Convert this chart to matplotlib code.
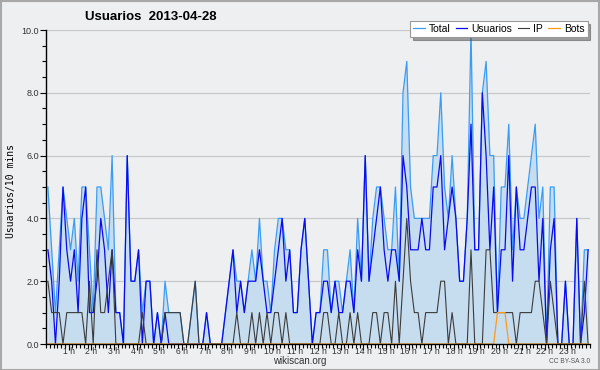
import numpy as np
import matplotlib
matplotlib.use('Agg')
import matplotlib.pyplot as plt
from matplotlib.ticker import MultipleLocator, FixedLocator

plt.rcParams['font.family'] = ['Liberation Sans', 'DejaVu Sans']

# valores por intervalo de 10 minutos (00:00 - 23:50)
total = [5, 3, 1, 3, 5, 4, 3, 4, 2, 5,
         5, 3, 1, 5, 5, 4, 3, 6, 1, 1,
         0, 6, 2, 2, 3, 1, 2, 2, 0, 1,
         0, 2, 1, 1, 1, 1, 0, 0, 1, 2,
         0, 0, 1, 0, 0, 0, 0, 1, 2, 3,
         2, 2, 1, 2, 3, 2, 4, 2, 2, 1,
         3, 4, 4, 3, 3, 1, 1, 3, 4, 2,
         0, 1, 1, 3, 3, 1, 2, 2, 1, 2,
         3, 1, 4, 2, 6, 2, 4, 5, 5, 4,
         3, 3, 5, 2, 8, 9, 5, 4, 4, 4,
         4, 4, 6, 6, 8, 5, 4, 6, 4, 2,
         2, 4, 10, 3, 3, 8, 9, 6, 6, 1,
         5, 5, 7, 3, 5, 4, 4, 5, 6, 7,
         4, 5, 0, 5, 5, 0, 0, 2, 0, 0,
         4, 0, 3, 3]
usuarios = [3, 2, 0, 2, 5, 3, 2, 3, 1, 4,
            5, 1, 1, 2, 4, 3, 1, 3, 1, 1,
            0, 6, 2, 2, 3, 0, 2, 2, 0, 1,
            0, 1, 0, 0, 0, 0, 0, 0, 0, 0,
            0, 0, 1, 0, 0, 0, 0, 1, 2, 3,
            1, 2, 1, 2, 2, 2, 3, 2, 1, 1,
            2, 3, 4, 2, 3, 1, 1, 3, 4, 2,
            0, 1, 1, 2, 2, 1, 2, 1, 1, 2,
            2, 1, 3, 2, 6, 2, 3, 4, 5, 3,
            2, 3, 3, 2, 6, 5, 3, 3, 3, 4,
            3, 3, 5, 5, 6, 3, 4, 5, 4, 2,
            2, 4, 7, 3, 3, 8, 6, 3, 5, 1,
            3, 3, 6, 2, 5, 3, 3, 4, 5, 5,
            2, 4, 0, 3, 4, 0, 0, 2, 0, 0,
            4, 0, 1, 3]
ip = [2, 1, 1, 1, 0, 1, 1, 1, 1, 1,
      0, 2, 0, 3, 1, 1, 2, 3, 0, 0,
      0, 0, 0, 0, 0, 1, 0, 0, 0, 0,
      0, 1, 1, 1, 1, 1, 0, 0, 1, 2,
      0, 0, 0, 0, 0, 0, 0, 0, 0, 0,
      1, 0, 0, 0, 1, 0, 1, 0, 1, 0,
      1, 1, 0, 1, 0, 0, 0, 0, 0, 0,
      0, 0, 0, 1, 1, 0, 0, 1, 0, 0,
      1, 0, 1, 0, 0, 0, 1, 1, 0, 1,
      1, 0, 2, 0, 2, 4, 2, 1, 1, 0,
      1, 1, 1, 1, 2, 2, 0, 1, 0, 0,
      0, 0, 3, 0, 0, 0, 3, 3, 1, 1,
      1, 1, 1, 1, 0, 1, 1, 1, 1, 2,
      2, 1, 0, 2, 1, 0, 0, 0, 0, 0,
      0, 0, 2, 0]
bots = [0] * 119 + [1, 1, 1] + [0] * 22

hour_labels = ['%d h' % h for h in range(1, 24)]
title = 'Usuarios  2013-04-28'

# eje de tiempo en horas (centro de cada intervalo)
t = (np.arange(len(total)) + 0.5) / 6.0

bg = '#eeeff1'
fig = plt.figure(figsize=(6, 3.7), dpi=100, facecolor=bg)
fig.patches.append(plt.Rectangle((0.001, 0.001), 0.997, 0.997, transform=fig.transFigure,
                                 fill=False, edgecolor='#a8a8a8', linewidth=1.5))
ax = fig.add_axes([46 / 600, 1 - 344 / 370, 544 / 600, 314 / 370])
ax.set_facecolor(bg)

ax.fill_between(t, total, 0, color='#c6dcef', linewidth=0, zorder=1)
l1, = ax.plot(t, total, color='#3a9cf5', lw=0.9, zorder=2)
l2, = ax.plot(t, usuarios, color='#0a0af0', lw=0.9, zorder=2.1)
l3, = ax.plot(t, ip, color='#3c3c3c', lw=0.8, zorder=2.2)
l4, = ax.plot(t, bots, color='#ff9a1a', lw=0.9, zorder=2.3)

ax.set_xlim(0, 24)
ax.set_ylim(0, 10)
ax.yaxis.set_major_locator(MultipleLocator(2))
ax.yaxis.set_minor_locator(MultipleLocator(0.5))
ax.yaxis.set_major_formatter(matplotlib.ticker.FormatStrFormatter('%.1f'))
ax.xaxis.set_major_locator(FixedLocator(range(1, 24)))
ax.set_xticklabels(hour_labels)
ax.xaxis.set_minor_locator(MultipleLocator(1 / 6))
ax.tick_params(axis='both', which='both', direction='out', color='black', width=0.8)
ax.tick_params(axis='both', which='major', length=4, labelcolor='#333333')
ax.tick_params(axis='both', which='minor', length=3)
ax.tick_params(axis='y', labelsize=6.5, pad=1)
ax.tick_params(axis='x', labelsize=6.2, pad=-1.5)
ax.grid(axis='y', color='#c8c8c8', linewidth=0.9)
ax.set_axisbelow(True)
for s in ['top', 'right']:
    ax.spines[s].set_visible(False)
for s in ['left', 'bottom']:
    ax.spines[s].set_linewidth(1.0)
    ax.spines[s].set_zorder(5)

fig.text(0.018, 0.485, 'Usuarios/10 mins', family='DejaVu Sans Mono', fontsize=7,
         rotation=90, ha='center', va='center')
fig.text(0.5, 0.024, 'wikiscan.org', fontsize=7, ha='center', va='center', color='#333333')
fig.text(0.983, 0.022, 'CC BY-SA 3.0', fontsize=4.8, ha='right', va='center', color='#555555')
fig.text(0.252, 0.955, title, fontsize=9.5, fontweight='bold', ha='center', va='center')

leg = fig.legend([l1, l2, l3, l4], ['Total', 'Usuarios', 'IP', 'Bots'], ncol=4,
                 loc='upper right', bbox_to_anchor=(0.988, 0.958), fontsize=7.5,
                 handlelength=1.1, handletextpad=0.4, columnspacing=0.5,
                 borderpad=0.3, fancybox=False, shadow=True, framealpha=1)
leg.get_frame().set_edgecolor('#999999')
leg.get_frame().set_linewidth(0.8)

fig.savefig('out.png', dpi=100, facecolor=bg)
